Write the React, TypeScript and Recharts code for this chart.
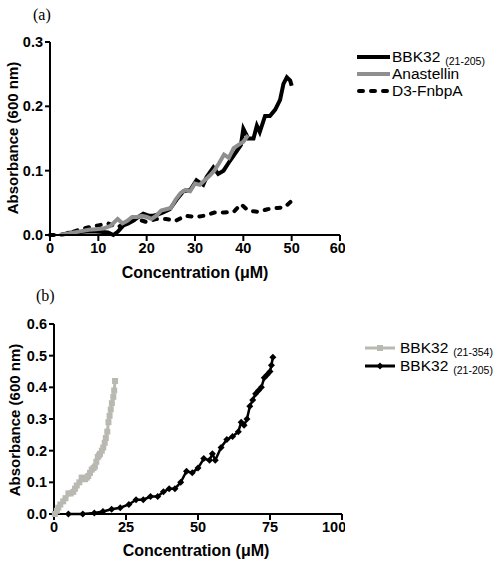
import { LineChart, Line, XAxis, YAxis } from 'recharts';

// panel (a): turbidity vs concentration
const A_BBK_X = [3.4, 5, 6.9, 8.5, 10.3, 12, 13.1, 14, 15.2, 16.2, 17.2, 18.3, 19.3, 20.4, 21.4, 22.4, 23.4, 24.8, 26.2, 27.6, 29, 30.3, 31.7, 32.4, 33.8, 34.8, 35.9, 37.2, 38.6, 39.5, 40, 41, 42.1, 42.8, 43.4, 44.5, 45.5, 46.6, 47.6, 48.3, 49, 49.7, 50];
const A_BBK_Y = [0.003, 0.004, 0.005, 0.006, 0.005, 0.004, 0.0, 0.005, 0.015, 0.018, 0.022, 0.028, 0.033, 0.03, 0.03, 0.032, 0.035, 0.04, 0.055, 0.068, 0.07, 0.085, 0.078, 0.09, 0.105, 0.095, 0.1, 0.115, 0.13, 0.14, 0.165, 0.15, 0.15, 0.17, 0.16, 0.185, 0.185, 0.195, 0.21, 0.235, 0.245, 0.24, 0.232];
const A_ANA_X = [2, 3.5, 5, 6.5, 8, 9.5, 11, 12.5, 14, 15, 16, 17, 18, 19, 20, 21, 22, 23, 24, 25, 26, 27, 28, 29, 30, 31, 32, 33, 34, 35, 36, 37, 38, 39, 40, 41];
const A_ANA_Y = [0, 0.002, 0.004, 0.006, 0.008, 0.009, 0.01, 0.014, 0.025, 0.018, 0.022, 0.028, 0.028, 0.03, 0.028, 0.025, 0.03, 0.038, 0.04, 0.042, 0.055, 0.065, 0.07, 0.068, 0.08, 0.078, 0.085, 0.092, 0.1, 0.112, 0.125, 0.12, 0.135, 0.14, 0.145, 0.155];
const A_D3_X = [0, 2, 4, 6, 8, 10, 12, 14, 16, 18, 20, 22, 24, 26, 28, 30, 32, 34, 36, 38, 39.5, 41, 43, 45, 47, 48.5, 50];
const A_D3_Y = [0, 0, 0.003, 0.008, 0.012, 0.015, 0.018, 0.012, 0.02, 0.025, 0.02, 0.025, 0.025, 0.022, 0.03, 0.028, 0.03, 0.035, 0.035, 0.036, 0.048, 0.038, 0.036, 0.04, 0.042, 0.043, 0.053];
const A_X_TICKS = [0, 10, 20, 30, 40, 50, 60];
const A_Y_TICKS = [0, 0.1, 0.2, 0.3];

// panel (b)
const B_354_X = [0.3, 1, 1.5, 2.2, 3.2, 4, 5, 5.8, 6.7, 7.3, 7.9, 8.8, 9.6, 10.2, 10.8, 11.4, 11.9, 12.5, 13.1, 13.7, 14.2, 14.7, 15.2, 15.6, 16, 16.6, 17.1, 17.6, 18, 18.5, 18.9, 19.3, 19.7, 20.1, 20.6, 20.9, 21.2];
const B_354_Y = [0, 0.01, 0.02, 0.03, 0.04, 0.05, 0.065, 0.065, 0.07, 0.08, 0.09, 0.1, 0.115, 0.11, 0.11, 0.115, 0.12, 0.13, 0.14, 0.145, 0.15, 0.165, 0.18, 0.185, 0.19, 0.2, 0.21, 0.225, 0.24, 0.26, 0.29, 0.31, 0.33, 0.35, 0.37, 0.39, 0.42];
const B_205_X = [5, 10, 14, 17, 20, 23, 26, 28.5, 31, 33.5, 36, 38, 40, 42, 44, 46, 48, 50, 52, 54, 55, 56, 58, 60, 62, 64, 65, 66, 67, 68, 69, 70, 71, 72, 73, 74, 75, 75.5, 76];
const B_205_Y = [0, 0, 0.003, 0.008, 0.015, 0.02, 0.03, 0.045, 0.045, 0.055, 0.055, 0.07, 0.08, 0.08, 0.1, 0.135, 0.13, 0.145, 0.175, 0.17, 0.19, 0.17, 0.21, 0.235, 0.245, 0.26, 0.29, 0.28, 0.3, 0.34, 0.36, 0.38, 0.39, 0.4, 0.43, 0.44, 0.45, 0.47, 0.495];
const B_X_TICKS = [0, 25, 50, 75, 100];
const B_Y_TICKS = [0, 0.1, 0.2, 0.3, 0.4, 0.5, 0.6];

const zip = (xs: number[], ys: number[]) => xs.map((x, i) => ({ x, y: ys[i] }));

const FONT = 'Arial, "Liberation Sans", sans-serif';
const SERIF = '"Liberation Serif", "Times New Roman", serif';
const GRAY_A = '#8f8f8f';
const GRAY_B = '#b9b9b1';
const tickStyle = { fontSize: 14.5, fontWeight: 'bold' as const, fill: '#000', fontFamily: FONT };

const Square = (p: any) => <rect key={p.index} x={p.cx - 3} y={p.cy - 3} width={6} height={6} fill={GRAY_B} />;
const Diamond = (p: any) => (
    <path key={p.index} d={`M${p.cx},${p.cy - 3.5}L${p.cx + 3.5},${p.cy}L${p.cx},${p.cy + 3.5}L${p.cx - 3.5},${p.cy}Z`} fill="#000" />
);

function LegendRow({ top, left, sample, label, sub }: { top: number; left: number; sample: any; label: string; sub?: string }) {
    return (
        <div style={{ position: 'absolute', top: top - 9, left, height: 18, display: 'flex', alignItems: 'center', fontSize: 15.5, fontFamily: FONT, whiteSpace: 'nowrap' }}>
            <svg width={33} height={18} style={{ marginRight: 2 }}>{sample}</svg>
            <span>{label}</span>
            {sub && <span style={{ fontSize: 10.5, position: 'relative', top: 4, marginLeft: 5 }}>{sub}</span>}
        </div>
    );
}

const axisProps = {
    axisLine: { stroke: '#000', strokeWidth: 2 },
    tickLine: { stroke: '#000', strokeWidth: 2 },
    tickSize: 6,
    tick: tickStyle,
};

const titleStyle = { position: 'absolute' as const, fontSize: 16, fontWeight: 'bold' as const, whiteSpace: 'nowrap' as const };

export default function App() {
    return (
        <div style={{ position: 'absolute', left: 0, top: 0, width: 498, height: 564, background: '#fff', fontFamily: FONT }}>
            <div style={{ position: 'absolute', left: 33, top: 6, fontFamily: SERIF, fontSize: 16 }}>(a)</div>
            <div style={{ position: 'absolute', left: 0, top: 0 }}>
                <LineChart width={345} height={280} margin={{ top: 42, right: 5, bottom: 15, left: 20 }}>
                    <XAxis type="number" dataKey="x" domain={[0, 60]} ticks={A_X_TICKS} height={30} {...axisProps} />
                    <YAxis type="number" dataKey="y" domain={[0, 0.3]} ticks={A_Y_TICKS} width={30} tickFormatter={(v: number) => v.toFixed(1)} {...axisProps} tickSize={5} />
                    <Line data={zip(A_D3_X, A_D3_Y)} dataKey="y" stroke="#000" strokeWidth={4} strokeDasharray="4 8" strokeLinecap="round" dot={false} isAnimationActive={false} />
                    <Line data={zip(A_BBK_X, A_BBK_Y)} dataKey="y" stroke="#000" strokeWidth={4} dot={false} isAnimationActive={false} />
                    <Line data={zip(A_ANA_X, A_ANA_Y)} dataKey="y" stroke={GRAY_A} strokeWidth={4} dot={false} isAnimationActive={false} />
                </LineChart>
            </div>
            <div style={{ ...titleStyle, fontSize: 15, left: 12, top: 138, transform: 'translate(-50%, -50%) rotate(-90deg)' }}>Absorbance (600 nm)</div>
            <div style={{ ...titleStyle, left: 195, top: 273, transform: 'translate(-50%, -50%)' }}>Concentration (μM)</div>

            <LegendRow top={57} left={357} label="BBK32" sub="(21-205)" sample={<line x1={0} x2={33} y1={9} y2={9} stroke="#000" strokeWidth={4} />} />
            <LegendRow top={74} left={357} label="Anastellin" sample={<line x1={0} x2={33} y1={9} y2={9} stroke={GRAY_A} strokeWidth={4} />} />
            <LegendRow top={91} left={357} label="D3-FnbpA" sample={<line x1={2} x2={33} y1={9} y2={9} stroke="#000" strokeWidth={4} strokeDasharray="4 8" strokeLinecap="round" />} />

            <div style={{ position: 'absolute', left: 36, top: 287, fontFamily: SERIF, fontSize: 16 }}>(b)</div>
            <div style={{ position: 'absolute', left: 0, top: 280 }}>
                <LineChart width={345} height={284} margin={{ top: 44, right: 3, bottom: 20, left: 21 }}>
                    <XAxis type="number" dataKey="x" domain={[0, 100]} ticks={B_X_TICKS} height={30} {...axisProps} />
                    <YAxis type="number" dataKey="y" domain={[0, 0.6]} ticks={B_Y_TICKS} width={33} tickFormatter={(v: number) => v.toFixed(1)} {...axisProps} tickSize={5} />
                    <Line data={zip(B_354_X, B_354_Y)} dataKey="y" stroke={GRAY_B} strokeWidth={3} dot={Square} isAnimationActive={false} />
                    <Line data={zip(B_205_X, B_205_Y)} dataKey="y" stroke="#000" strokeWidth={2.5} dot={Diamond} isAnimationActive={false} />
                </LineChart>
            </div>
            <div style={{ ...titleStyle, fontSize: 15, left: 14, top: 420, transform: 'translate(-50%, -50%) rotate(-90deg)' }}>Absorbance (600 nm)</div>
            <div style={{ ...titleStyle, left: 196, top: 551, transform: 'translate(-50%, -50%)' }}>Concentration (μM)</div>

            <LegendRow top={348} left={365} label="BBK32" sub="(21-354)" sample={<g><line x1={0} x2={30} y1={9} y2={9} stroke={GRAY_B} strokeWidth={3} /><rect x={12} y={6} width={6} height={6} fill={GRAY_B} /></g>} />
            <LegendRow top={366} left={365} label="BBK32" sub="(21-205)" sample={<g><line x1={0} x2={30} y1={9} y2={9} stroke="#000" strokeWidth={3} /><path d="M15,5.5L18.5,9L15,12.5L11.5,9Z" fill="#000" /></g>} />
        </div>
    );
}
